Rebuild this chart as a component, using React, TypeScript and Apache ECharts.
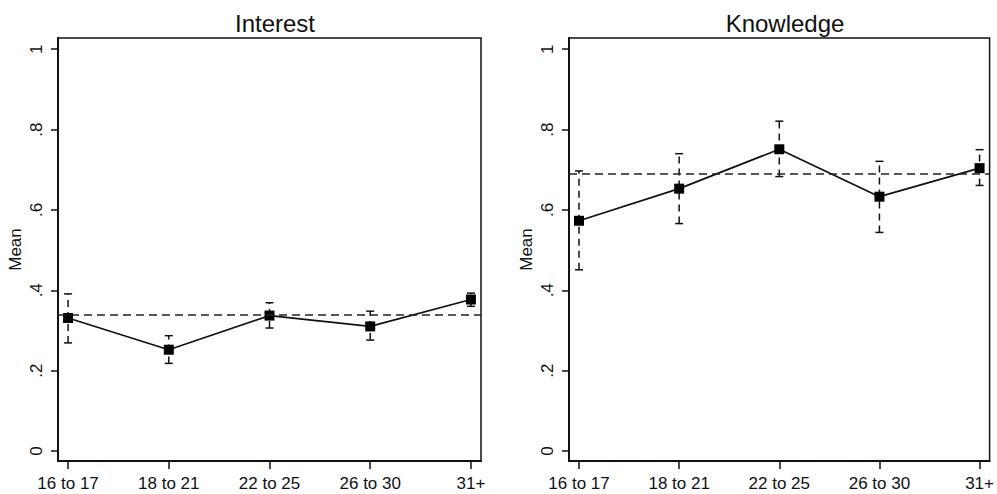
import React, { useEffect, useRef } from "react";
import * as echarts from "echarts";

const categories = ["16 to 17", "18 to 21", "22 to 25", "26 to 30", "31+"];
const panelTitles = ["Interest", "Knowledge"];
const yTicks = [0, 0.2, 0.4, 0.6, 0.8, 1];

const interestMean = [0.331, 0.252, 0.337, 0.31, 0.377];
const interestLow = [0.269, 0.218, 0.306, 0.276, 0.36];
const interestHigh = [0.391, 0.287, 0.369, 0.348, 0.393];
const interestOverall = 0.34;

const knowledgeMean = [0.573, 0.653, 0.751, 0.633, 0.704];
const knowledgeLow = [0.451, 0.566, 0.683, 0.544, 0.661];
const knowledgeHigh = [0.697, 0.74, 0.821, 0.721, 0.75];
const knowledgeOverall = 0.692;

const FONT = "'Liberation Sans', Arial, sans-serif";

function fmtY(v: number) {
  if (v === 0) return "0";
  if (v === 1) return "1";
  return "." + Math.round(v * 10);
}

export default function App() {
  const ref = useRef<HTMLDivElement>(null);
  useEffect(() => {
    if (!ref.current) return;
    const chart = echarts.init(ref.current, null, { renderer: "svg" });
    const idx = categories.map((_, i) => i);

    const panels = [
      { mean: interestMean, low: interestLow, high: interestHigh, overall: interestOverall },
      { mean: knowledgeMean, low: knowledgeLow, high: knowledgeHigh, overall: knowledgeOverall },
    ];

    const grids = [
      { left: 58, right: 516, top: 38, bottom: 33 },
      { left: 569, right: 4, top: 38, bottom: 33 },
    ].map((g) => ({
      ...g,
      show: true,
      borderColor: "#111",
      borderWidth: 1.5,
      backgroundColor: "#fff",
      containLabel: false,
    }));

    const xAxes = [0, 1].map((gi) => ({
      type: "value",
      gridIndex: gi,
      min: -0.1,
      max: 4.1,
      splitLine: { show: false },
      axisLine: { show: true, onZero: false, lineStyle: { color: "#111", width: 2 } },
      axisTick: {
        show: true,
        length: 8,
        customValues: idx,
        lineStyle: { color: "#111", width: 1.5 },
      },
      axisLabel: {
        show: true,
        customValues: idx,
        margin: 14,
        fontFamily: FONT,
        fontSize: 17,
        color: "#111",
        formatter: (v: number) => categories[Math.round(v)] ?? "",
      },
    }));

    const yAxes = [0, 1].map((gi) => ({
      type: "value",
      gridIndex: gi,
      min: -0.025,
      max: 1.028,
      name: "Mean",
      nameLocation: "middle",
      nameGap: 34,
      nameRotate: 90,
      nameTextStyle: { fontFamily: FONT, fontSize: 17, color: "#111" },
      splitLine: { show: false },
      axisLine: { show: true, onZero: false, lineStyle: { color: "#111", width: 2 } },
      axisTick: {
        show: true,
        length: 7,
        customValues: yTicks,
        lineStyle: { color: "#111", width: 1.5 },
      },
      axisLabel: {
        show: true,
        customValues: yTicks,
        rotate: 90,
        margin: 13,
        fontFamily: FONT,
        fontSize: 17,
        color: "#111",
        formatter: (v: number) => fmtY(v),
      },
    }));

    const series: any[] = [];
    panels.forEach((p, gi) => {
      series.push({
        type: "custom",
        xAxisIndex: gi,
        yAxisIndex: gi,
        data: idx.map((i) => [i, p.low[i], p.high[i]]),
        renderItem: (params: any, api: any) => {
          const x = api.value(0);
          const lo = api.coord([x, api.value(1)]);
          const hi = api.coord([x, api.value(2)]);
          const cap = 4;
          const style = { stroke: "#111", lineWidth: 1.5 };
          return {
            type: "group",
            children: [
              {
                type: "line",
                shape: { x1: lo[0], y1: lo[1], x2: hi[0], y2: hi[1] },
                style: { ...style, lineDash: [7, 5] },
              },
              {
                type: "line",
                shape: { x1: lo[0] - cap, y1: lo[1], x2: lo[0] + cap, y2: lo[1] },
                style,
              },
              {
                type: "line",
                shape: { x1: hi[0] - cap, y1: hi[1], x2: hi[0] + cap, y2: hi[1] },
                style,
              },
            ],
          };
        },
        z: 2,
      });
      series.push({
        type: "line",
        xAxisIndex: gi,
        yAxisIndex: gi,
        data: idx.map((i) => [i, p.mean[i]]),
        symbol: "rect",
        symbolSize: 10,
        itemStyle: { color: "#000" },
        lineStyle: { color: "#111", width: 1.7 },
        z: 3,
        markLine: {
          silent: true,
          symbol: "none",
          label: { show: false },
          lineStyle: { color: "#222", width: 1.6, type: [8, 5] },
          data: [{ yAxis: p.overall }],
        },
      });
    });

    chart.setOption({
      animation: false,
      backgroundColor: "#fff",
      title: [
        { text: panelTitles[0], left: 270, top: 6, textAlign: "center" },
        { text: panelTitles[1], left: 780, top: 6, textAlign: "center" },
      ].map((t) => ({
        ...t,
        textStyle: { fontFamily: FONT, fontSize: 24, fontWeight: "normal", color: "#111" },
      })),
      grid: grids,
      xAxis: xAxes,
      yAxis: yAxes,
      series,
    });
    return () => chart.dispose();
  }, []);
  return (
    <div
      ref={ref}
      style={{ position: "fixed", left: 0, top: 0, width: 997, height: 494 }}
    />
  );
}
